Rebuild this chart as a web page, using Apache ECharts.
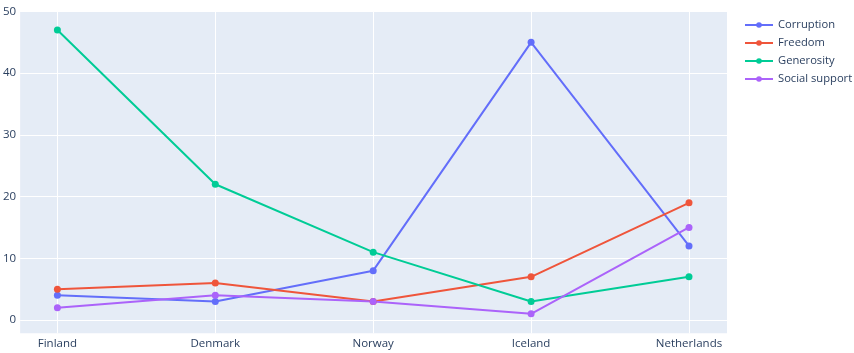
<!DOCTYPE html>
<html>
<head>
<meta charset="utf-8">
<script src="https://cdn.jsdelivr.net/npm/echarts@6/dist/echarts.min.js"></script>
<style>
  html, body { margin: 0; padding: 0; background: #fff; }
  #chart { width: 854px; height: 353px; }
</style>
</head>
<body>
<div id="chart"></div>
<script>
// countries on the x axis
const countries = ['Finland', 'Denmark', 'Norway', 'Iceland', 'Netherlands'];

// values per factor
const corruption = [4, 3, 8, 45, 12];
const freedom = [5, 6, 3, 7, 19];
const generosity = [47, 22, 11, 3, 7];
const socialSupport = [2, 4, 3, 1, 15];

const seriesNames = ['Corruption', 'Freedom', 'Generosity', 'Social support'];
const seriesValues = [corruption, freedom, generosity, socialSupport];
const colors = ['#636efa', '#EF553B', '#00cc96', '#ab63fa'];

const FONT = '"Open Sans", "DejaVu Sans", sans-serif';
const Y_MIN = -2.15, Y_MAX = 50;

const chartDom = document.getElementById('chart');
const myChart = echarts.init(chartDom);

myChart.setOption({
    animation: false,
    color: colors,
    textStyle: { fontFamily: FONT },
    // grid 0: plot background + y grid lines, grid 1: inset area for the data
    grid: [{
        left: 20,
        right: 127,
        top: 11.5,
        bottom: 19.7,
        backgroundColor: '#E5ECF6',
        show: true,
        borderWidth: 0
    }, {
        left: 57.4,
        right: 165,
        top: 11.5,
        bottom: 19.7
    }],
    legend: {
        orient: 'vertical',
        left: 744,
        top: 17,
        padding: 0,
        itemWidth: 28,
        itemHeight: 7,
        itemGap: 2,
        textStyle: { color: '#2a3f5f', fontSize: 11.2, fontFamily: FONT, lineHeight: 16 },
        data: seriesNames
    },
    xAxis: [{
        gridIndex: 0,
        type: 'value',
        show: false,
        min: 0,
        max: 1
    }, {
        gridIndex: 1,
        type: 'category',
        data: countries,
        boundaryGap: false,
        axisLine: { show: false },
        axisTick: { show: false },
        splitLine: { show: true, lineStyle: { color: '#fff', width: 1 } },
        axisLabel: { color: '#2a3f5f', fontSize: 11.5, margin: 4 }
    }],
    yAxis: [{
        gridIndex: 0,
        type: 'value',
        min: Y_MIN,
        max: Y_MAX,
        splitNumber: 5,
        axisLine: { show: false },
        axisTick: { show: false },
        splitLine: { show: true, lineStyle: { color: '#fff', width: 1 }, showMinLine: false },
        axisLabel: {
            color: '#2a3f5f',
            fontSize: 11.5,
            margin: 4,
            showMinLabel: false,
            formatter: (v) => (Math.abs(v % 10) < 1e-6 ? String(v) : '')
        }
    }, {
        gridIndex: 1,
        type: 'value',
        show: false,
        min: Y_MIN,
        max: Y_MAX
    }],
    series: seriesNames.map((name, i) => ({
        name: name,
        type: 'line',
        xAxisIndex: 1,
        yAxisIndex: 1,
        data: seriesValues[i],
        symbol: 'circle',
        symbolSize: 7,
        showSymbol: true,
        lineStyle: { width: 2, color: colors[i] },
        itemStyle: { color: colors[i] },
        emphasis: { disabled: true },
        z: 2
    }))
});

window.onresize = function () {
    myChart.resize();
}
</script>
</body>
</html>
